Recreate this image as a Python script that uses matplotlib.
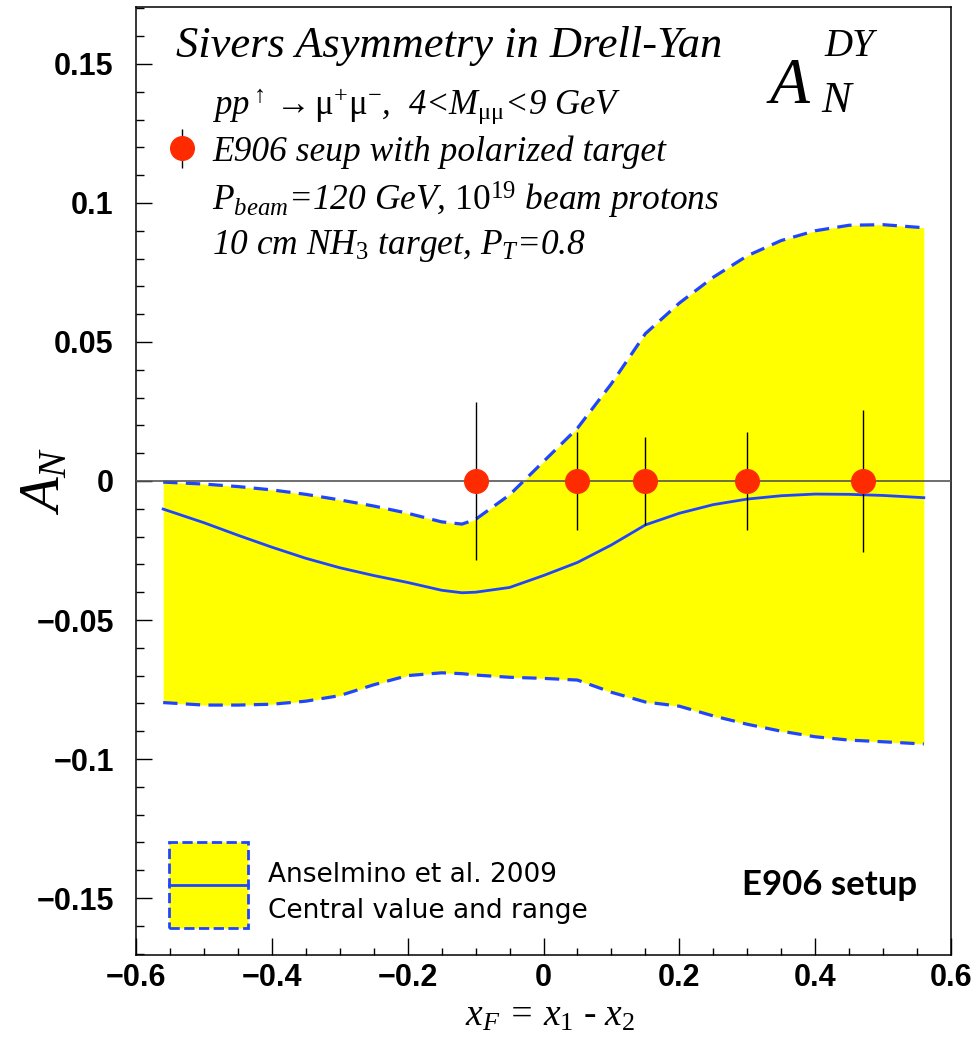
import numpy as np
import matplotlib.pyplot as plt
from matplotlib.patches import Patch
from matplotlib.lines import Line2D
from matplotlib.legend_handler import HandlerTuple, HandlerErrorbar, HandlerLine2D
from matplotlib.ticker import MultipleLocator, FuncFormatter
from matplotlib.transforms import Affine2D

plt.rcParams['mathtext.fontset'] = 'custom'
plt.rcParams['mathtext.rm'] = 'Liberation Serif'
plt.rcParams['mathtext.it'] = 'Liberation Serif:italic'
plt.rcParams['mathtext.bf'] = 'Liberation Serif:bold'

# Anselmino et al. 2009 band
xf = [-0.56, -0.5, -0.45, -0.4, -0.35, -0.3, -0.25, -0.2, -0.15, -0.12, -0.1,
      -0.05, 0.0, 0.05, 0.1, 0.15, 0.2, 0.25, 0.3, 0.35, 0.4, 0.45, 0.5, 0.56]
upper = [-0.0004, -0.0011, -0.002, -0.0032, -0.0048, -0.0068, -0.009, -0.0116,
         -0.0147, -0.0155, -0.0138, -0.005, 0.007, 0.019, 0.035, 0.053, 0.064,
         0.0733, 0.081, 0.0865, 0.090, 0.092, 0.0922, 0.0911]
central = [-0.0101, -0.0150, -0.0195, -0.0238, -0.0278, -0.0312, -0.0340, -0.0365,
           -0.0393, -0.0402, -0.0400, -0.0383, -0.034, -0.0293, -0.023, -0.0158,
           -0.0116, -0.0085, -0.0065, -0.0053, -0.0047, -0.0048, -0.0052, -0.006]
lower = [-0.0797, -0.0806, -0.0806, -0.0803, -0.0792, -0.0772, -0.0733, -0.070,
         -0.069, -0.0693, -0.0698, -0.0706, -0.071, -0.0716, -0.076, -0.0795,
         -0.081, -0.0845, -0.0875, -0.090, -0.092, -0.0932, -0.0938, -0.0946]

# E906 projected points
pts_x = [-0.1, 0.05, 0.15, 0.3, 0.47]
pts_y = [0, 0, 0, 0, 0]
pts_err = [0.0284, 0.0178, 0.0158, 0.0178, 0.0254]

xticks = [-0.6, -0.4, -0.2, 0, 0.2, 0.4, 0.6]
yticks = [-0.15, -0.1, -0.05, 0, 0.05, 0.1, 0.15]

blue = '#1f45ff'
W, H = 978, 1040


class CenterLine(HandlerLine2D):
    # put the legend line through the middle of the box instead of above it
    def create_artists(self, legend, orig_handle, xdescent, ydescent, width, height,
                       fontsize, trans):
        return super().create_artists(legend, orig_handle, xdescent, 2 * ydescent,
                                      width, height, fontsize, trans)


fig = plt.figure(figsize=(W / 100, H / 100), dpi=100)
ax = fig.add_axes([136 / W, 1 - 955 / H, (951 - 136) / W, (955 - 7) / H])

ax.fill_between(xf, lower, upper, color='#ffff00', lw=0, zorder=1)
ax.plot(xf, upper, color=blue, lw=2.3, ls=(0, (4.5, 2.6)), zorder=2)
ax.plot(xf, lower, color=blue, lw=2.3, ls=(0, (4.5, 2.6)), zorder=2)
ax.plot(xf, central, color=blue, lw=2.0, zorder=2)
ax.axhline(0, color='#555555', lw=1.2, zorder=3)
eb = ax.errorbar(pts_x, pts_y, yerr=pts_err, fmt='o', ms=17, color='#ff2b00',
                 ecolor='black', elinewidth=1.0, capsize=0, zorder=4)

ax.set_xlim(-0.6, 0.6)
ax.set_ylim(-0.1705, 0.1705)
ax.set_xticks(xticks)
ax.set_yticks(yticks)
ax.xaxis.set_minor_locator(MultipleLocator(0.05))
ax.yaxis.set_minor_locator(MultipleLocator(0.01))
fmt = FuncFormatter(lambda v, p: ('%g' % round(v, 3)).replace('-', '\u2212'))
ax.xaxis.set_major_formatter(fmt)
ax.yaxis.set_major_formatter(fmt)
ax.tick_params(which='both', direction='in', top=False, right=False)
ax.tick_params(axis='x', which='major', length=12, width=1, pad=6)
ax.tick_params(axis='x', which='minor', length=5, width=1)
ax.tick_params(axis='y', which='major', length=11.5, width=1, pad=16)
ax.tick_params(axis='y', which='minor', length=5.8, width=1)
for lab in ax.get_xticklabels() + ax.get_yticklabels():
    lab.set_fontfamily('Liberation Sans')
    lab.set_fontweight('bold')
    lab.set_fontsize(22)
for s in ax.spines.values():
    s.set_linewidth(1.1)

ax.set_ylabel(r'$A_N$', fontsize=41)
ax.yaxis.set_label_coords(-0.079, 0.5)
ax.set_xlabel(r'$x_F$ = $x_{\mathit{1}}$ - $x_{\mathit{2}}$', fontsize=27,
              fontfamily='Liberation Serif', fontstyle='italic')
ax.xaxis.set_label_coords(0.508, -0.046)

serif = dict(fontfamily='Liberation Serif', fontstyle='italic', va='baseline')
fig.text(176 / W, 1 - 57 / H, 'Sivers Asymmetry in Drell-Yan', fontsize=32, **serif)
fig.text(212 / W, 1 - 114 / H,
         r'$pp^{\uparrow}\rightarrow\mathrm{\mu}^{+}\mathrm{\mu}^{-}$,  4<$M_{\mathrm{\mu\mu}}$<9 GeV',
         fontsize=25, **serif)
fig.text(212 / W, 1 - 211 / H,
         r'$P_{beam}$=120 GeV, $\mathit{10}^{\mathit{19}}$ beam protons', fontsize=25.5, **serif)
fig.text(212 / W, 1 - 254 / H,
         r'10 cm NH$_{\mathit{3}}$ target, $P_{T}$=0.8', fontsize=25.5, **serif)

# big A_N^DY label, pieces placed separately like the original
fig.text(770 / W, 1 - 103 / H, 'A', fontsize=47, **serif)
fig.text(821 / W, 1 - 112 / H, 'N', fontsize=32, **serif)
fig.text(824 / W, 1 - 56 / H, 'DY', fontsize=28, **serif)

# legend for the points, sitting in the text block
leg1 = ax.legend([eb], ['E906 seup with polarized target'], loc='center left',
                 bbox_to_anchor=((164 - 136) / 815, (955 - 152) / 948), frameon=False,
                 borderpad=0, borderaxespad=0, handlelength=1.0, handletextpad=0.37,
                 prop=dict(family='Liberation Serif', style='italic', size=25.5),
                 handler_map={eb: HandlerErrorbar(yerr_size=0.55)})
ax.add_artist(leg1)

band_line = Line2D([], [], color=blue, lw=2.0)
band_h = (Patch(facecolor='#ffff00', edgecolor=blue, linestyle='--', lw=2.0), band_line)
leg2 = ax.legend([band_h], ['Anselmino et al. 2009\nCentral value and range'],
                 loc='lower left', bbox_to_anchor=((169 - 136) / 815, (955 - 928) / 948),
                 frameon=False, borderpad=0, borderaxespad=0, handlelength=3.0,
                 handleheight=4.65, handletextpad=0.75,
                 prop=dict(family='DejaVu Sans', size=19),
                 handler_map={tuple: HandlerTuple(ndivide=1, pad=0),
                              band_line: CenterLine()})
for t in leg2.get_texts():
    t.set_linespacing(1.5)
    # nudge the two text lines down to sit like in the original
    t.set_transform(t.get_transform() + Affine2D().translate(0, -11))

ax.text(0.958, 0.0633, 'E906 setup', transform=ax.transAxes, ha='right', va='baseline',
        fontsize=25, fontfamily='Lato', fontweight='bold')

fig.savefig('out.png', dpi=100)
